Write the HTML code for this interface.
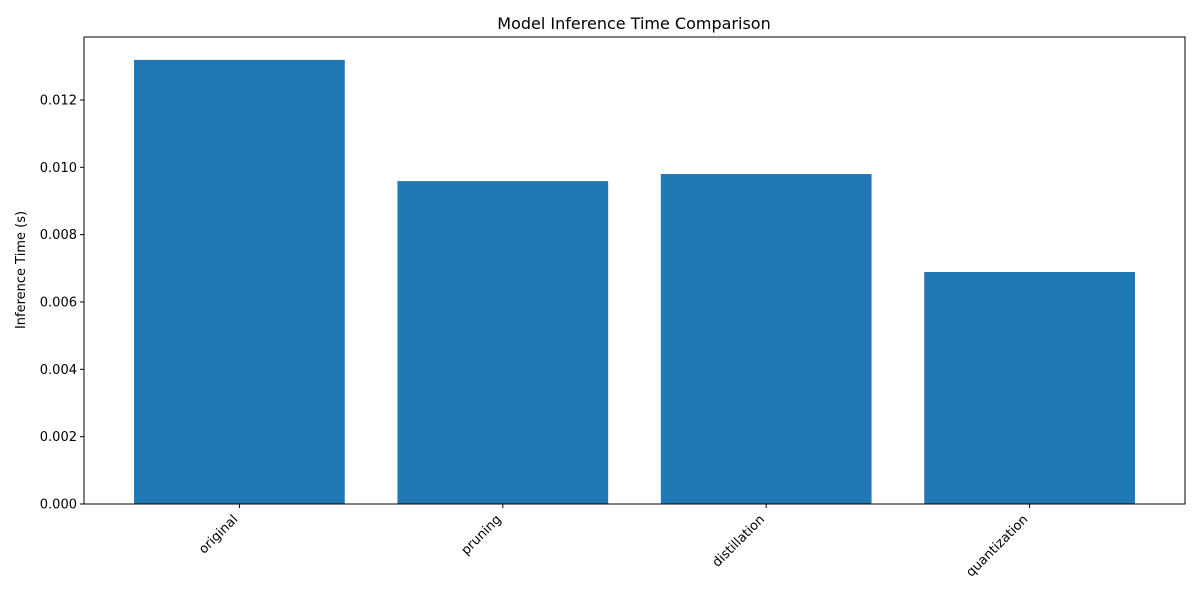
<!DOCTYPE html>
<html><head><meta charset="utf-8"><style>
body{margin:0;background:#fff;}
svg text{font-family:"DejaVu Sans","Liberation Sans",sans-serif;fill:#000;}
</style></head><body>
<svg id="chart" width="1200" height="600" xmlns="http://www.w3.org/2000/svg">
<text x="634" y="29" font-size="16" text-anchor="middle">Model Inference Time Comparison</text>
<text transform="translate(25,270) rotate(-90)" font-size="13" text-anchor="middle">Inference Time (s)</text>
<g id="bars"></g><g id="yticks"></g><g id="xticks"></g>
<rect x="84" y="37" width="1101" height="467" fill="none" stroke="#000" stroke-width="1"/>
</svg>
<script>
const categories=["original","pruning","distillation","quantization"];
const values=[0.01319,0.00959,0.0098,0.00689];
const yTicks=[0,0.002,0.004,0.006,0.008,0.010,0.012];
const yTickLabels=["0.000","0.002","0.004","0.006","0.008","0.010","0.012"];
const L=84,R=1185,T=37,B=504,ymax=0.01387;
const xmin=-0.59,xmax=categories.length-1+0.59;
const xs=v=>L+(v-xmin)/(xmax-xmin)*(R-L);
const ys=v=>B-v/ymax*(B-T);
const NS="http://www.w3.org/2000/svg";
const mk=(t,a)=>{const e=document.createElementNS(NS,t);for(const k in a)e.setAttribute(k,a[k]);return e;};
const bw=xs(0.4)-xs(-0.4);
categories.forEach((c,i)=>{
 const r=mk("rect",{x:xs(i)-bw/2,y:ys(values[i]),width:bw,height:B-ys(values[i]),fill:"#1f77b4"});
 
 
 document.getElementById("bars").appendChild(r);
 const tk=mk("line",{x1:xs(i),x2:xs(i),y1:B,y2:B+4,stroke:"#000"});
 
 
 document.getElementById("xticks").appendChild(tk);
 const t=mk("text",{transform:`translate(${xs(i)-1},${B+16}) rotate(-45)`,"font-size":13,"text-anchor":"end"});
 
 
 t.textContent=c;
 document.getElementById("xticks").appendChild(t);
});
yTicks.forEach((v,i)=>{
 const tk=mk("line",{x1:L-4,x2:L,y1:ys(v),y2:ys(v),stroke:"#000"});
 
 
 document.getElementById("yticks").appendChild(tk);
 const t=mk("text",{x:L-7,y:ys(v)+4.5,"font-size":13,"text-anchor":"end"});
 
 
 t.textContent=yTickLabels[i];
 document.getElementById("yticks").appendChild(t);
});
</script>
</body></html>
